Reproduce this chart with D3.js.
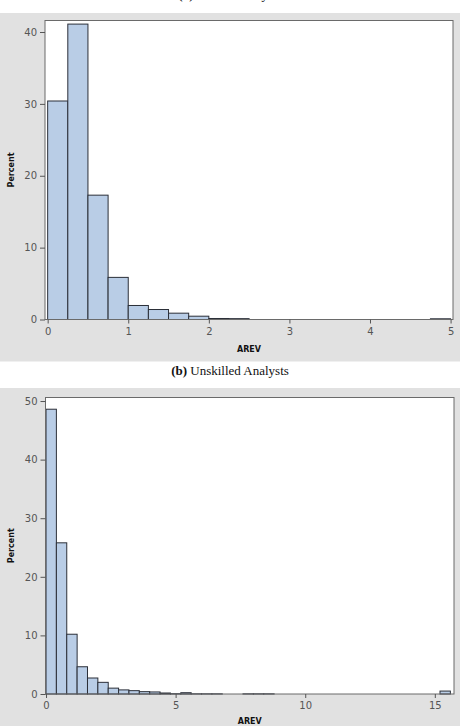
<!DOCTYPE html>
<html>
<head>
<meta charset="utf-8">
<script src="https://cdnjs.cloudflare.com/ajax/libs/d3/7.8.5/d3.min.js"></script>
<style>
  body { margin: 0; background: #fff; }
  svg { display: block; }
  .tick text { font-family: "DejaVu Sans", sans-serif; font-size: 10px; fill: #555; }
  .tick line { stroke: #555; }
  .axisLabel { font-family: "DejaVu Sans", sans-serif; font-size: 8px; font-weight: bold; fill: #111; }
  .caption { font-family: "Liberation Serif", "Times New Roman", serif; font-size: 13px; fill: #111; }
</style>
</head>
<body>
<div id="chart"></div>
<script>
// panel (a) skilled analysts: AREV bins of width 0.25
var binStartA = 0, binWidthA = 0.25;
var percentA = [30.4, 41.1, 17.3, 5.86, 1.95, 1.39, 0.88, 0.46, 0.14, 0.12,
                0, 0, 0, 0, 0, 0, 0, 0, 0, 0.1];
var xTicksA = [0, 1, 2, 3, 4, 5];
var yTicksA = [0, 10, 20, 30, 40];

// panel (b) unskilled analysts: AREV bins of width 0.4
var binStartB = 0, binWidthB = 0.4;
var percentB = [48.6, 25.8, 10.2, 4.65, 2.73, 1.99, 1.0, 0.7, 0.57, 0.4,
                0.35, 0.17, 0.05, 0.22, 0.03, 0.03, 0.03, 0, 0, 0.03,
                0.03, 0.03, 0, 0, 0, 0, 0, 0, 0, 0,
                0, 0, 0, 0, 0, 0, 0, 0, 0.5];
var xTicksB = [0, 5, 10, 15];
var yTicksB = [0, 10, 20, 30, 40, 50];

var W = 460, H = 726;
var svg = d3.select("#chart").append("svg")
    .attr("width", W)
    .attr("height", H);

//cut off caption of the first panel, only the descenders show
svg.append("text")
    .attr("class", "caption")
    .attr("x", 230)
    .attr("y", -1)
    .attr("text-anchor", "middle")
    .html("<tspan font-weight='bold'>(a)</tspan> Skilled Analysts");

svg.append("text")
    .attr("class", "caption")
    .attr("x", 230)
    .attr("y", 375)
    .attr("text-anchor", "middle")
    .html("<tspan font-weight='bold'>(b)</tspan> Unskilled Analysts");

function drawHist(opt) {
    var bins = opt.values.map(function(v, i) {
        return {x0: opt.start + i * opt.width, x1: opt.start + (i + 1) * opt.width, v: v};
    });

    //grey panel behind the plot
    svg.append("rect")
        .attr("x", 0)
        .attr("y", opt.panel[0])
        .attr("width", W)
        .attr("height", opt.panel[1] - opt.panel[0])
        .attr("fill", "#e1e1e1");

    var x = d3.scaleLinear().domain(opt.xDomain).range([opt.left, opt.right]);
    var y = d3.scaleLinear().domain(opt.yDomain).range([opt.bottom, opt.top]);

    svg.append("rect")
        .attr("x", opt.left)
        .attr("y", opt.top)
        .attr("width", opt.right - opt.left)
        .attr("height", opt.bottom - opt.top)
        .attr("fill", "#fff");

    svg.append("g").selectAll("rect")
        .data(bins.filter(function(d) { return d.v > 0; }))
        .enter().append("rect")
        .attr("x", function(d) { return x(d.x0); })
        .attr("y", function(d) { return y(d.v); })
        .attr("width", function(d) { return x(d.x1) - x(d.x0); })
        .attr("height", function(d) { return y(0) - y(d.v); })
        .attr("fill", "#b9cde6")
        .attr("stroke", "#2b2f38")
        .attr("stroke-width", 1);

    svg.append("rect")
        .attr("x", opt.left)
        .attr("y", opt.top)
        .attr("width", opt.right - opt.left)
        .attr("height", opt.bottom - opt.top)
        .attr("fill", "none")
        .attr("stroke", "#6a6a6a")
        .attr("stroke-width", 1);

    var yAxis = svg.append("g")
        .attr("transform", "translate(" + opt.left + ",0)")
        .call(d3.axisLeft(y).tickValues(opt.yTicks).tickFormat(d3.format("d")).tickSize(5).tickPadding(3));
    yAxis.select(".domain").remove();

    var xAxis = svg.append("g")
        .attr("transform", "translate(0," + opt.bottom + ")")
        .call(d3.axisBottom(x).tickValues(opt.xTicks).tickFormat(d3.format("d")).tickSize(4).tickPadding(4));
    xAxis.select(".domain").remove();

    svg.append("text")
        .attr("class", "axisLabel")
        .attr("transform", "translate(14," + ((opt.top + opt.bottom) / 2) + ") rotate(-90)")
        .attr("text-anchor", "middle")
        .text("Percent");

    svg.append("text")
        .attr("class", "axisLabel")
        .attr("x", (opt.left + opt.right) / 2)
        .attr("y", opt.bottom + opt.labelGap)
        .attr("text-anchor", "middle")
        .text("AREV");
}

drawHist({
    values: percentA, start: binStartA, width: binWidthA,
    xTicks: xTicksA, yTicks: yTicksA,
    xDomain: [-0.033, 5.03], yDomain: [0, 41.6],
    left: 45, right: 453, top: 20.5, bottom: 319.5,
    panel: [13, 361.5], labelGap: 32
});

drawHist({
    values: percentB, start: binStartB, width: binWidthB,
    xTicks: xTicksB, yTicks: yTicksB,
    xDomain: [-0.02, 15.74], yDomain: [0, 50.6],
    left: 45.5, right: 454, top: 397.5, bottom: 694,
    panel: [388, 726], labelGap: 30
});
</script>
</body>
</html>
